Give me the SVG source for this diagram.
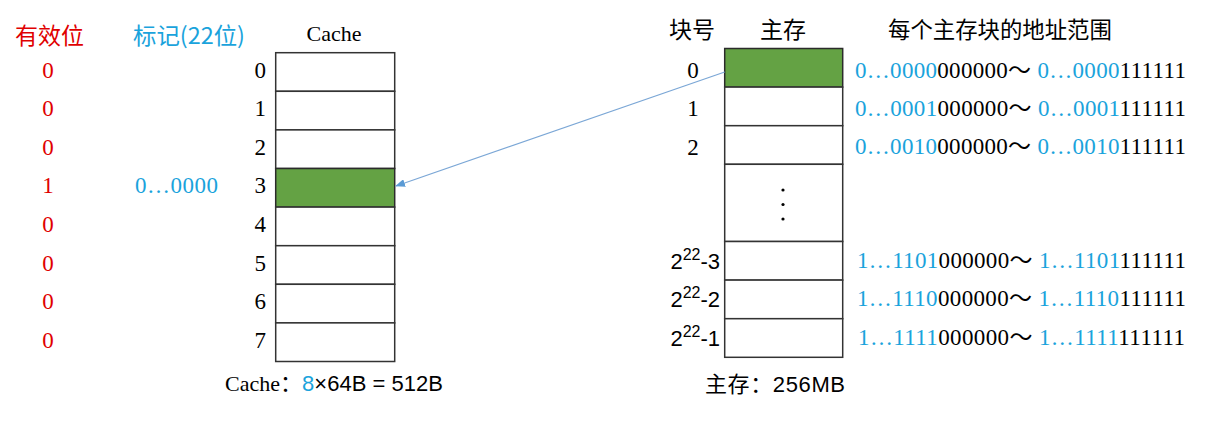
<svg xmlns="http://www.w3.org/2000/svg" width="1211" height="424" viewBox="0 0 1211 424">
<defs>
<style>
.serif{font-family:"Liberation Serif","Noto Sans CJK SC",serif;}
.sans{font-family:"Liberation Sans","Noto Sans CJK SC",sans-serif;}
.cjk{font-family:"Noto Sans CJK SC","Liberation Sans",sans-serif;}
.red{fill:#E00000;}
.blue{fill:#1AA3DC;}
.blk{fill:#000;}
.cell{fill:#fff;stroke:#333;stroke-width:1.5;}
.hot{fill:#64A244;stroke:#2b2b2b;stroke-width:1.5;}
.lbl{font-size:23px;}
.addr{font-size:23px;}
</style>
<marker id="ah" markerWidth="10" markerHeight="8" refX="9" refY="4" orient="auto" markerUnits="userSpaceOnUse">
<path d="M0,0 L10,4 L0,8 Z" fill="#5B9BD5"/>
</marker>
</defs>

<g id="valid-col">
<text class="cjk red" x="15" y="44" font-size="23">有效位</text>
<g class="serif red lbl" text-anchor="middle">
<text x="48" y="78">0</text>
<text x="48" y="116">0</text>
<text x="48" y="155">0</text>
<text x="48" y="193">1</text>
<text x="48" y="232">0</text>
<text x="48" y="271">0</text>
<text x="48" y="309">0</text>
<text x="48" y="348">0</text>
</g>
</g>

<g id="tag-col">
<text class="cjk blue" x="133" y="44" font-size="23" textLength="112" lengthAdjust="spacingAndGlyphs">标记(22位)</text>
<text class="serif blue lbl" x="135" y="193" textLength="83" lengthAdjust="spacing">0…0000</text>
</g>

<g id="cache">
<text class="serif blk" x="334" y="41" font-size="22" text-anchor="middle">Cache</text>
<rect class="cell" x="275.7" y="52.7" width="119" height="38.6"/>
<rect class="cell" x="275.7" y="91.3" width="119" height="38.6"/>
<rect class="cell" x="275.7" y="129.9" width="119" height="38.6"/>
<rect class="hot" x="275.7" y="168.5" width="119" height="38.6"/>
<rect class="cell" x="275.7" y="207.1" width="119" height="38.6"/>
<rect class="cell" x="275.7" y="245.7" width="119" height="38.6"/>
<rect class="cell" x="275.7" y="284.3" width="119" height="38.6"/>
<rect class="cell" x="275.7" y="322.9" width="119" height="38.6"/>
<g class="serif blk lbl" text-anchor="end">
<text x="266" y="78">0</text>
<text x="266" y="116">1</text>
<text x="266" y="155">2</text>
<text x="266" y="193">3</text>
<text x="266" y="232">4</text>
<text x="266" y="271">5</text>
<text x="266" y="309">6</text>
<text x="266" y="348">7</text>
</g>
<text x="225" y="391" font-size="22" textLength="218" lengthAdjust="spacing"><tspan class="serif blk">Cache：</tspan><tspan class="sans blue">8</tspan><tspan class="sans blk">×64B = 512B</tspan></text>
</g>

<g id="memory">
<text class="cjk blk" x="669" y="38" font-size="23">块号</text>
<text class="cjk blk" x="760" y="38" font-size="23">主存</text>
<text class="cjk blk" x="888" y="38" font-size="22.4">每个主存块的地址范围</text>
<rect class="hot" x="724.7" y="48.5" width="118" height="38.6"/>
<rect class="cell" x="724.7" y="87.1" width="118" height="38.6"/>
<rect class="cell" x="724.7" y="125.7" width="118" height="38.6"/>
<rect class="cell" x="724.7" y="164.3" width="118" height="77.2"/>
<rect class="cell" x="724.7" y="241.5" width="118" height="38.6"/>
<rect class="cell" x="724.7" y="280.1" width="118" height="38.6"/>
<rect class="cell" x="724.7" y="318.7" width="118" height="38.6"/>
<circle cx="783" cy="190" r="1.6" fill="#000"/>
<circle cx="783" cy="204.5" r="1.6" fill="#000"/>
<circle cx="783" cy="219" r="1.6" fill="#000"/>
<g class="serif blk lbl" text-anchor="middle">
<text x="693" y="78">0</text>
<text x="693" y="116">1</text>
<text x="693" y="155">2</text>
</g>
<g class="sans blk" font-size="22" text-anchor="end">
<text x="720" y="269">2<tspan font-size="16" dy="-9">22</tspan><tspan dy="9">-3</tspan></text>
<text x="720" y="307">2<tspan font-size="16" dy="-9">22</tspan><tspan dy="9">-2</tspan></text>
<text x="720" y="346">2<tspan font-size="16" dy="-9">22</tspan><tspan dy="9">-1</tspan></text>
</g>
<text x="705" y="392" font-size="22" textLength="140" lengthAdjust="spacing"><tspan class="cjk blk">主存：</tspan><tspan class="sans blk">256MB</tspan></text>
</g>

<g id="addresses" class="serif addr">
<text x="855" y="78" textLength="331" lengthAdjust="spacing"><tspan class="blue">0…0000</tspan><tspan class="blk">000000～ </tspan><tspan class="blue">0…0000</tspan><tspan class="blk">111111</tspan></text>
<text x="855" y="116" textLength="331" lengthAdjust="spacing"><tspan class="blue">0…0001</tspan><tspan class="blk">000000～ </tspan><tspan class="blue">0…0001</tspan><tspan class="blk">111111</tspan></text>
<text x="855" y="154" textLength="331" lengthAdjust="spacing"><tspan class="blue">0…0010</tspan><tspan class="blk">000000～ </tspan><tspan class="blue">0…0010</tspan><tspan class="blk">111111</tspan></text>
<text x="857" y="268" textLength="329" lengthAdjust="spacing"><tspan class="blue">1…1101</tspan><tspan class="blk">000000～ </tspan><tspan class="blue">1…1101</tspan><tspan class="blk">111111</tspan></text>
<text x="857" y="306" textLength="329" lengthAdjust="spacing"><tspan class="blue">1…1110</tspan><tspan class="blk">000000～ </tspan><tspan class="blue">1…1110</tspan><tspan class="blk">111111</tspan></text>
<text x="858" y="345" textLength="327" lengthAdjust="spacing"><tspan class="blue">1…1111</tspan><tspan class="blk">000000～ </tspan><tspan class="blue">1…1111</tspan><tspan class="blk">111111</tspan></text>
</g>

<g id="connectors">
<line x1="724.7" y1="72" x2="396" y2="186" stroke="#7BA7D6" stroke-width="1.2" marker-end="url(#ah)"/>
</g>
</svg>
